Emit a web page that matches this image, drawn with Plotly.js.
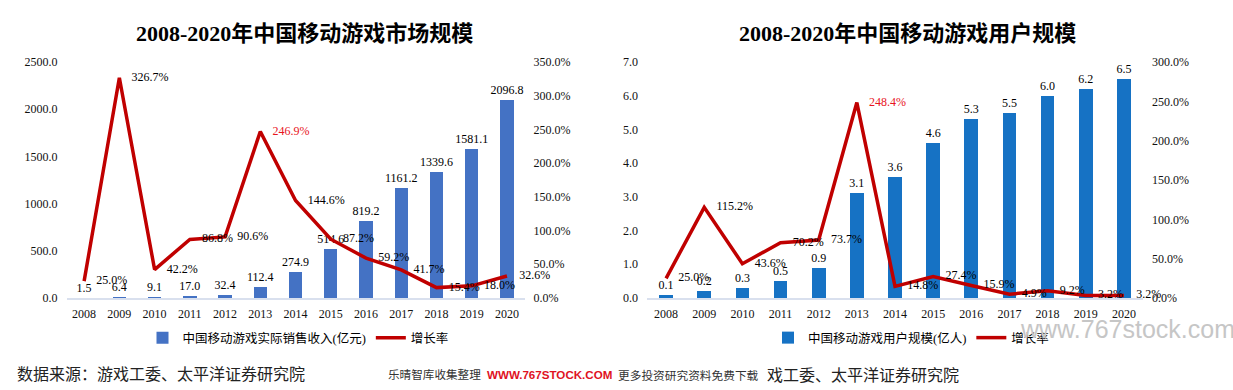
<!DOCTYPE html>
<html>
<head>
<meta charset="utf-8">
<script src="https://cdn.plot.ly/plotly-3.0.1.min.js"></script>
<style>
  html, body { margin: 0; padding: 0; background: #fff; }
  #chart { width: 1233px; height: 390px; }
</style>
</head>
<body>
<div id="chart"></div>
<script>
const years = ['2008','2009','2010','2011','2012','2013','2014','2015','2016','2017','2018','2019','2020'];
const revenue = [1.5, 6.4, 9.1, 17.0, 32.4, 112.4, 274.9, 514.6, 819.2, 1161.2, 1339.6, 1581.1, 2096.8];
const revenueGrowth = [25.0, 326.7, 42.2, 86.8, 90.6, 246.9, 144.6, 87.2, 59.2, 41.7, 15.4, 18.0, 32.6];
const users = [0.1, 0.2, 0.3, 0.5, 0.9, 3.1, 3.6, 4.6, 5.3, 5.5, 6.0, 6.2, 6.5];
const userGrowth = [25.0, 115.2, 43.6, 70.2, 73.7, 248.4, 14.8, 27.4, 15.9, 4.9, 9.2, 3.2, 3.2];

const titleLeft = '2008-2020年中国移动游戏市场规模';
const titleRight = '2008-2020年中国移动游戏用户规模';
const revenueName = '中国移动游戏实际销售收入(亿元)';
const usersName = '中国移动游戏用户规模(亿人)';
const growthName = '增长率';
const sourceText = '数据来源：游戏工委、太平洋证券研究院';

const SERIF = 'Liberation Serif, Noto Sans CJK SC, serif';
const CJK = 'Noto Sans CJK SC, sans-serif';
const LINE_RED = '#C00000';

// the 2013 peak label is red in the reference
function growthColors(arr) {
  return arr.map((v, i) => i === 5 ? '#E8141E' : '#000');
}

const traces = [
  {
    type: 'bar', x: years, y: revenue, name: revenueName,
    xaxis: 'x', yaxis: 'y', legend: 'legend',
    width: 0.38, marker: { color: '#4472C4' },
    text: revenue.map(v => v.toFixed(1)), textposition: 'outside', constraintext: 'none',
    textfont: { family: SERIF, size: 12, color: '#000' }, cliponaxis: false,
    hoverinfo: 'skip'
  },
  {
    type: 'scatter', mode: 'lines+markers+text', x: years, y: revenueGrowth, name: growthName,
    xaxis: 'x', yaxis: 'y2', legend: 'legend',
    line: { color: LINE_RED, width: 3.5 },
    marker: { size: 18, color: 'rgba(0,0,0,0)' },
    text: revenueGrowth.map(v => v.toFixed(1) + '%'), textposition: 'middle right',
    textfont: { family: SERIF, size: 12, color: growthColors(revenueGrowth) }, cliponaxis: false,
    hoverinfo: 'skip'
  },
  {
    type: 'bar', x: years, y: users, name: usersName,
    xaxis: 'x2', yaxis: 'y3', legend: 'legend2',
    width: 0.36, marker: { color: '#1672C4' },
    text: users.map(v => v.toFixed(1)), textposition: 'outside', constraintext: 'none',
    textfont: { family: SERIF, size: 12, color: '#000' }, cliponaxis: false,
    hoverinfo: 'skip'
  },
  {
    type: 'scatter', mode: 'lines+markers+text', x: years, y: userGrowth, name: growthName,
    xaxis: 'x2', yaxis: 'y4', legend: 'legend2',
    line: { color: LINE_RED, width: 3.5 },
    marker: { size: 18, color: 'rgba(0,0,0,0)' },
    text: userGrowth.map(v => v.toFixed(1) + '%'), textposition: 'middle right',
    textfont: { family: SERIF, size: 12, color: growthColors(userGrowth) }, cliponaxis: false,
    hoverinfo: 'skip'
  }
];

const W = 1233, H = 390;
const px = v => v / W;
const py = v => (H - v) / H;
const yDom = [py(298), py(62)];
const tickFont = { family: SERIF, size: 12, color: '#111' };

const xCommon = {
  type: 'category', range: [-0.5, 12.5], showline: true, linecolor: '#D9E0EE', linewidth: 2,
  ticks: '', showgrid: false, zeroline: false, tickfont: tickFont, ticklabelstandoff: 4, fixedrange: true
};
const yCommon = {
  showgrid: false, zeroline: false, showline: false, ticks: '', tickfont: tickFont,
  ticklabelstandoff: 8, fixedrange: true
};

const layout = {
  width: W, height: H,
  margin: { l: 0, r: 0, t: 0, b: 0 },
  paper_bgcolor: '#fff', plot_bgcolor: 'rgba(0,0,0,0)',
  font: { family: SERIF, color: '#000' },
  bargap: 0,
  xaxis: Object.assign({}, xCommon, { domain: [px(66.5), px(524.6)], anchor: 'y' }),
  yaxis: Object.assign({}, yCommon, { domain: yDom, range: [0, 2500], dtick: 500, tickformat: '.1f', anchor: 'x' }),
  yaxis2: Object.assign({}, yCommon, { overlaying: 'y', side: 'right', range: [0, 350], dtick: 50,
    tickformat: '.1f', ticksuffix: '%', anchor: 'x' }),
  xaxis2: Object.assign({}, xCommon, { domain: [px(647), px(1143)], anchor: 'y3' }),
  yaxis3: Object.assign({}, yCommon, { domain: yDom, range: [0, 7], dtick: 1, tickformat: '.1f', anchor: 'x2' }),
  yaxis4: Object.assign({}, yCommon, { overlaying: 'y3', side: 'right', range: [0, 300], dtick: 50,
    tickformat: '.1f', ticksuffix: '%', anchor: 'x2' }),
  legend: {
    orientation: 'h', x: px(298), xanchor: 'center', y: py(338), yanchor: 'middle',
    font: { family: SERIF, size: 12.5, color: '#000' }, bgcolor: 'rgba(0,0,0,0)', itemwidth: 30,
    tracegroupgap: 0
  },
  legend2: {
    orientation: 'h', x: px(911), xanchor: 'center', y: py(338), yanchor: 'middle',
    font: { family: SERIF, size: 12.5, color: '#000' }, bgcolor: 'rgba(0,0,0,0)', itemwidth: 30,
    tracegroupgap: 0
  },
  annotations: [
    { text: '<b>' + titleLeft + '</b>', x: px(304), y: py(33), xref: 'paper', yref: 'paper',
      xanchor: 'center', yanchor: 'middle', showarrow: false,
      font: { family: 'Liberation Serif, Noto Sans CJK SC', size: 22, color: '#000' } },
    { text: '<b>' + titleRight + '</b>', x: px(908), y: py(33), xref: 'paper', yref: 'paper',
      xanchor: 'center', yanchor: 'middle', showarrow: false,
      font: { family: 'Liberation Serif, Noto Sans CJK SC', size: 22, color: '#000' } },
    { text: sourceText, x: px(15), y: py(373), xref: 'paper', yref: 'paper',
      xanchor: 'left', yanchor: 'middle', showarrow: false,
      font: { family: CJK, size: 16, color: '#222' } },
    { text: '戏工委、太平洋证券研究院', x: px(765), y: py(374), xref: 'paper', yref: 'paper',
      xanchor: 'left', yanchor: 'middle', showarrow: false,
      font: { family: CJK, size: 16, color: '#222' } },
    { text: '乐晴智库收集整理', x: px(386), y: py(374), xref: 'paper', yref: 'paper',
      xanchor: 'left', yanchor: 'middle', showarrow: false,
      font: { family: CJK, size: 11.6, color: '#333' } },
    { text: '<b>WWW.767STOCK.COM</b>', x: px(485), y: py(374), xref: 'paper', yref: 'paper',
      xanchor: 'left', yanchor: 'middle', showarrow: false,
      font: { family: 'Liberation Sans, Arial', size: 11.6, color: '#E0121F' } },
    { text: '更多投资研究资料免费下载', x: px(616), y: py(374), xref: 'paper', yref: 'paper',
      xanchor: 'left', yanchor: 'middle', showarrow: false,
      font: { family: CJK, size: 11.7, color: '#333' } },
    { text: 'www.767stock.com', x: px(1018), y: py(329), xref: 'paper', yref: 'paper',
      xanchor: 'left', yanchor: 'middle', showarrow: false,
      font: { family: 'Liberation Sans, Arial', size: 25, color: '#C6C6C6' } }
  ]
};

Plotly.newPlot('chart', traces, layout, { staticPlot: true, displayModeBar: false });
</script>
</body>
</html>
